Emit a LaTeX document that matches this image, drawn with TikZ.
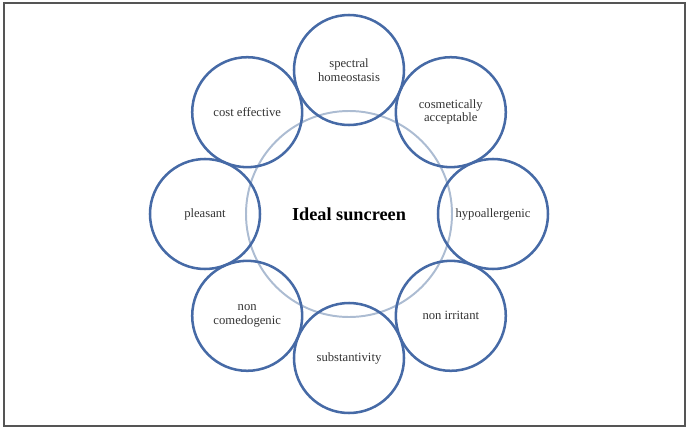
\documentclass[tikz,border=0pt]{standalone}
\usepackage{fontspec}
\setmainfont{Liberation Serif}
\usepackage{tikz}
\usetikzlibrary{shapes.geometric}
\definecolor{ringblue}{RGB}{70,106,166}
\definecolor{hubgrey}{RGB}{172,188,210}
\definecolor{framegrey}{RGB}{85,85,85}
\newcommand{\sunfont}{\linespread{1}\fontsize{9}{9.5}\selectfont}
\newcommand{\suntitlefont}{\fontsize{13}{15}\selectfont\bfseries}
\tikzset{
    sun/chart/.style={font=\sunfont, every node/.style={align=center}},
    sun/petal/.style={circle, draw=ringblue, line width=1.8pt, minimum size=2.75cm, inner sep=0pt, text=black!80},
    sun/hub/.style={circle, draw=hubgrey, line width=1.4pt, minimum size=5.15cm, inner sep=0pt, font=\suntitlefont},
    sun/frame/.style={draw=framegrey, line width=1.4pt}
}
\begin{document}
\begin{tikzpicture}[sun/chart]
    \useasboundingbox (0,0) rectangle (17.2,10.725);
    \draw[sun/frame] (0.1,0.07) rectangle (17.12,10.66);
    \node[sun/hub] (hub) at (8.725,5.375) {Ideal suncreen};
    \node[sun/petal] (spectral) at (8.725,8.975) {spectral\\homeostasis};
    \node[sun/petal] (cosmetic) at (11.27,7.92) {cosmetically\\acceptable};
    \node[sun/petal] (hypo) at (12.325,5.375) {hypoallergenic};
    \node[sun/petal] (irritant) at (11.27,2.83) {non irritant};
    \node[sun/petal] (substant) at (8.725,1.775) {substantivity};
    \node[sun/petal] (comedo) at (6.18,2.83) {non\\comedogenic};
    \node[sun/petal] (pleasant) at (5.125,5.375) {pleasant};
    \node[sun/petal] (cost) at (6.18,7.92) {cost effective};
\end{tikzpicture}
\end{document}
